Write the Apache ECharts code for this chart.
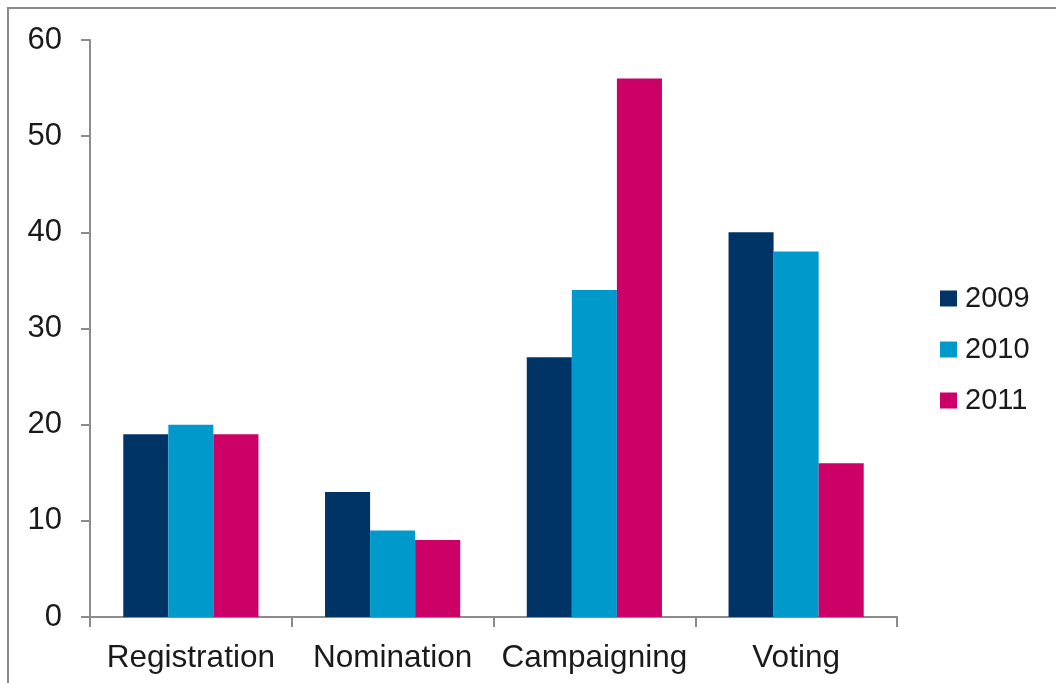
<!DOCTYPE html>
<html>
<head>
<meta charset="utf-8">
<script src="https://cdn.jsdelivr.net/npm/echarts@6/dist/echarts.min.js"></script>
<style>
  html, body { margin: 0; padding: 0; background: #fff; }
  #chart { width: 1056px; height: 683px; }
</style>
</head>
<body>
<div id="chart"></div>
<script>
// Electoral process stages, counts per year
const categories = ['Registration', 'Nomination', 'Campaigning', 'Voting'];
const years = ['2009', '2010', '2011'];
const values2009 = [19, 13, 27, 40];
const values2010 = [20, 9, 34, 38];
const values2011 = [19, 8, 56, 16];
const yTicks = { min: 0, max: 60, interval: 10 };

const colors = ['#003366', '#0099cc', '#cc0066'];
const seriesValues = [values2009, values2010, values2011];
const textColor = '#1a1a1a';
const axisColor = '#8c8c8c';
const fontFamily = 'Liberation Sans, Arial, sans-serif';

const chart = echarts.init(document.getElementById('chart'));
chart.setOption({
  animation: false,
  color: colors,
  grid: { left: 90, right: 159, top: 40, bottom: 66, containLabel: false },
  graphic: [{
    type: 'rect',
    shape: { x: 8, y: 8, width: 1200, height: 1000 },
    style: { fill: 'none', stroke: '#8a8a8a', lineWidth: 2 },
    silent: true
  }],
  legend: {
    orient: 'vertical',
    left: 940,
    top: 284,
    padding: 0,
    itemWidth: 17,
    itemHeight: 16,
    itemGap: 22,
    icon: 'rect',
    textStyle: { fontFamily: fontFamily, fontSize: 29, color: textColor, padding: [0, 0, 0, 3] },
    data: years
  },
  xAxis: {
    type: 'category',
    data: categories,
    axisLine: { lineStyle: { color: axisColor, width: 2 } },
    axisTick: { show: true, interval: 0, length: 10, lineStyle: { color: axisColor, width: 2 } },
    axisLabel: { interval: 0, margin: 25, fontFamily: fontFamily, fontSize: 31.5, color: textColor }
  },
  yAxis: {
    type: 'value',
    min: yTicks.min,
    max: yTicks.max,
    interval: yTicks.interval,
    axisLine: { show: true, lineStyle: { color: axisColor, width: 2 } },
    axisTick: { show: true, length: 9, lineStyle: { color: axisColor, width: 2 } },
    splitLine: { show: false },
    axisLabel: { margin: 28, fontFamily: fontFamily, fontSize: 31, color: textColor }
  },
  series: years.map((y, i) => ({
    name: y,
    type: 'bar',
    data: seriesValues[i],
    barGap: '0%',
    barCategoryGap: '33%',
    itemStyle: { color: colors[i] }
  }))
});
</script>
</body>
</html>
